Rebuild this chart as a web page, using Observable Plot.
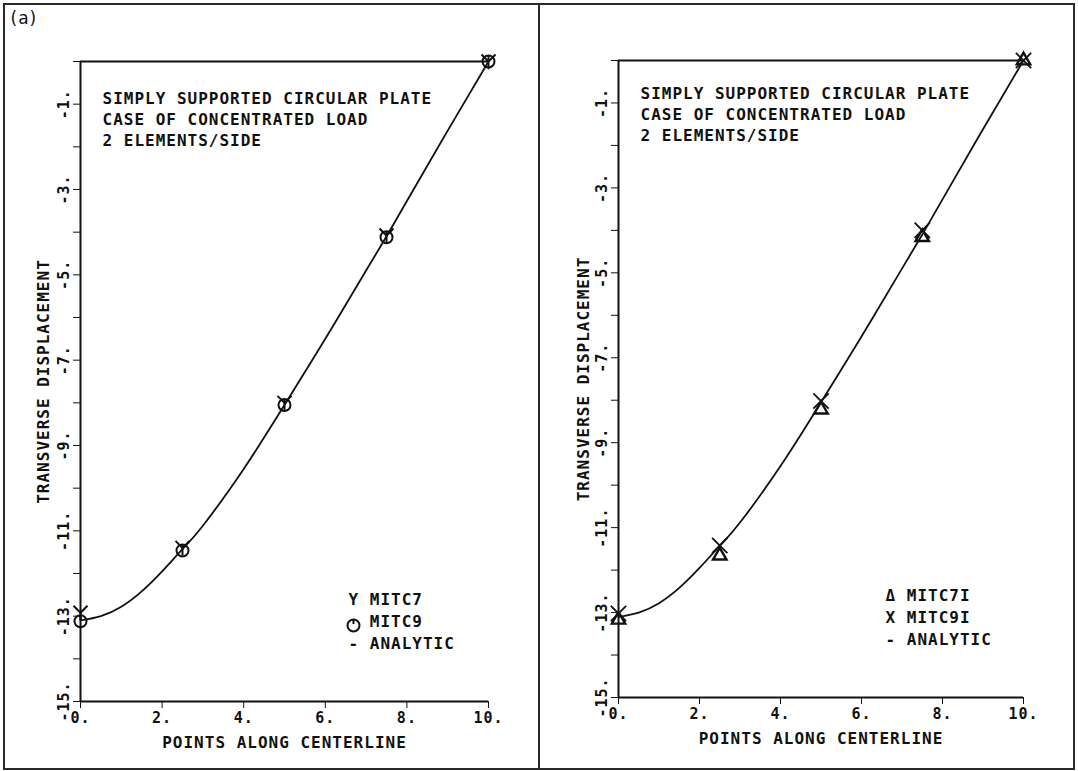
<!DOCTYPE html>
<html><head><meta charset="utf-8">
<script src="https://cdn.jsdelivr.net/npm/d3@7"></script>
<script src="https://cdn.jsdelivr.net/npm/@observablehq/plot@0.6"></script>
<style>
html,body{margin:0;padding:0;background:#fff;width:1078px;height:771px;overflow:hidden;}
#wrap{position:relative;width:1078px;height:771px;}
.panel{position:absolute;top:0;width:539px;height:771px;}
.panel svg{font-family:"DejaVu Sans Mono",monospace;font-weight:bold;letter-spacing:1px;color:#111;background:transparent !important;max-width:none !important;}
.border{position:absolute;border:2px solid #2a2a2a;box-sizing:border-box;}
</style></head><body>
<div id="wrap">
<div class="border" style="left:3px;top:3px;width:537px;height:767px"></div>
<div class="border" style="left:538px;top:3px;width:537px;height:767px"></div>
<div class="panel" id="left" style="left:0"></div>
<div class="panel" id="right" style="left:539px"></div>
</div>
<script>
// ---- data ----
const xCurve   = [0, 0.5, 1, 1.5, 2, 2.5, 3, 4, 5, 6, 7, 7.5, 8, 9, 10];
const analytic = [-13.1, -13.0, -12.78, -12.42, -11.95, -11.43, -10.88, -9.55, -8.05, -6.5, -4.9, -4.1, -3.27, -1.62, 0];
const xNodes   = [0, 2.5, 5, 7.5, 10];
const mitc7    = [-12.92, -11.40, -8.00, -4.08, 0];
const mitc9    = [-13.12, -11.46, -8.05, -4.12, 0];
const mitc7i   = [-13.17, -11.66, -8.22, -4.16, 0];
const mitc9i   = [-13.02, -11.42, -8.02, -4.00, 0];
const xTicks   = [0, 2, 4, 6, 8, 10];
const yTicks   = [0, -1, -2, -3, -4, -5, -6, -7, -8, -9, -10, -11, -12, -13, -14, -15];
const yTickLabels = [-1, -3, -5, -7, -9, -11, -13, -15];
const noteLines   = ["SIMPLY SUPPORTED CIRCULAR PLATE", "CASE OF CONCENTRATED LOAD", "2 ELEMENTS/SIDE"];
const legendLeft  = ["Y MITC7", "\u00a0\u00a0MITC9", "- ANALYTIC"];
const legendRight = ["\u0394 MITC7I", "X MITC9I", "- ANALYTIC"];
const xTitle = "POINTS ALONG CENTERLINE";
const yTitle = "TRANSVERSE DISPLACEMENT";
const panelTag = "(a)";

// ---- custom symbols ----
const symbolY = {draw(ctx, size) {
  const r = Math.sqrt(size / Math.PI);
  ctx.moveTo(-r, -r); ctx.lineTo(0, 0); ctx.lineTo(r, -r);
  ctx.moveTo(0, 0); ctx.lineTo(0, r * 1.1);
}};
const symbolCircleTick = {draw(ctx, size) {
  const r = Math.sqrt(size / Math.PI);
  ctx.moveTo(r, 0); ctx.arc(0, 0, r, 0, 2 * Math.PI);
  ctx.moveTo(0, -r); ctx.lineTo(0, -r * 0.25);
}};

const ink = "#111";

function makePanel(o) {
  const curve = xCurve.map((x, i) => ({x, y: analytic[i]}));
  const A = xNodes.map((x, i) => ({x, y: o.s1[i]}));
  const B = xNodes.map((x, i) => ({x, y: o.s2[i]}));
  const marks = [
    Plot.ruleX([0], {stroke: ink, strokeWidth: 2}),
    Plot.ruleY([0, -15], {stroke: ink, strokeWidth: 2}),
    Plot.line(curve, {x: "x", y: "y", curve: "natural", stroke: ink, strokeWidth: 1.8}),
    Plot.dot(A, {x: "x", y: "y", symbol: o.sym1, r: o.r1, stroke: ink, strokeWidth: o.sw1, fill: "none"}),
    Plot.dot(B, {x: "x", y: "y", symbol: o.sym2, r: o.r2, stroke: ink, strokeWidth: o.sw2, fill: "none"}),
    Plot.text(yTickLabels, {y: d => d, frameAnchor: "left", text: d => `${d}.`, rotate: -90, dx: -16,
      fontSize: 15, textAnchor: "middle", lineAnchor: "middle", fill: ink}),
    Plot.text(xTicks, {x: d => d, frameAnchor: "bottom", text: d => `${d}.`, dy: 17,
      fontSize: 15, textAnchor: "middle", lineAnchor: "middle", fill: ink}),
    Plot.text([noteLines.join("\n")], {frameAnchor: "top-left", text: d => d, dx: 22, dy: o.noteDy,
      fontSize: 16, lineHeight: 1.31, textAnchor: "start", lineAnchor: "top", fill: ink}),
    Plot.text([o.legend.join("\n")], {frameAnchor: "top-left", text: d => d, dx: o.legDx, dy: o.legDy,
      fontSize: 16, lineHeight: 1.375, textAnchor: "start", lineAnchor: "top", fill: ink}),
    Plot.text([xTitle], {frameAnchor: "bottom", text: d => d, dy: 41, fontSize: 16, lineAnchor: "middle", fill: ink}),
    Plot.text([yTitle], {frameAnchor: "left", text: d => d, dx: o.ytDx, rotate: -90, fontSize: 16,
      lineAnchor: "middle", textAnchor: "middle", fill: ink})
  ];
  if (o.legendDot) marks.push(Plot.dot([0], {frameAnchor: "top-left", dx: o.legDx + 5, dy: o.legDy + 36,
      symbol: symbolCircleTick, r: 6, stroke: ink, strokeWidth: 2, fill: "none"}));
  if (o.tag) marks.push(Plot.text([o.tag], {frameAnchor: "top-left", text: d => d, dx: -70, dy: -43,
      fontSize: 17, fontFamily: "DejaVu Sans", fontWeight: "normal", textAnchor: "start", lineAnchor: "middle", fill: ink}));
  return Plot.plot({
    width: 539, height: 771,
    marginLeft: o.ml, marginRight: o.mr, marginTop: o.mt, marginBottom: o.mb,
    style: {background: "transparent"},
    x: {domain: [0, 10], ticks: xTicks, tickSize: 7, tickFormat: () => "", label: null},
    y: {domain: [-15, 0], ticks: yTicks, tickSize: 7, tickFormat: () => "", label: null},
    marks
  });
}

document.getElementById("left").append(makePanel({
  ml: 80, mr: 51, mt: 61, mb: 70,
  s1: mitc9, sym1: symbolCircleTick, r1: 6, sw1: 2,
  s2: mitc7, sym2: symbolY, r2: 7, sw2: 2,
  noteDy: 28, legend: legendLeft, legDx: 268, legDy: 528, legendDot: true,
  ytDx: -37, tag: panelTag
}));
document.getElementById("right").append(makePanel({
  ml: 79, mr: 55, mt: 60, mb: 74,
  s1: mitc7i, sym1: "triangle", r1: 5, sw1: 2.4,
  s2: mitc9i, sym2: "times", r2: 7, sw2: 1.8,
  noteDy: 24, legend: legendRight, legDx: 267, legDy: 525, legendDot: false,
  ytDx: -35, tag: null
}));
</script>
</body></html>
